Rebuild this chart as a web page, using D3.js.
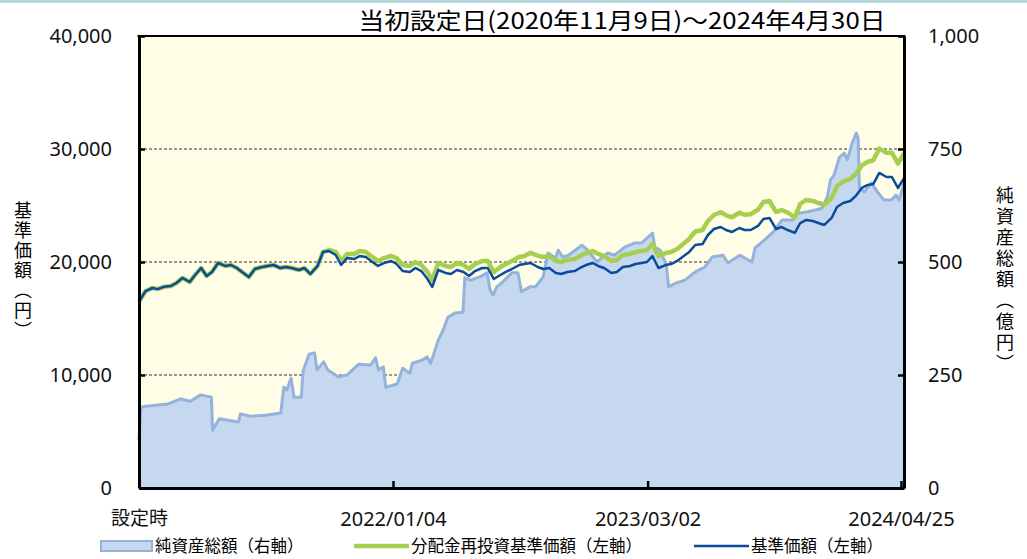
<!DOCTYPE html>
<html lang="ja">
<head>
<meta charset="utf-8">
<title>基準価額・純資産総額の推移</title>
<script src="https://cdn.jsdelivr.net/npm/d3@7"></script>
<style>
  body { margin: 0; background: #fff; }
  svg { display: block; }
</style>
</head>
<body>
<div id="chart"></div>
<script>

/* Data */
/* ==== */

// dates shared by the two price series (1st, 10th, 20th of each month)
var priceDates = [
  '2020-11-09','2020-11-20','2020-12-01','2020-12-10','2020-12-20',
  '2021-01-01','2021-01-10','2021-01-20','2021-02-01','2021-02-10','2021-02-20',
  '2021-03-01','2021-03-10','2021-03-20','2021-04-01','2021-04-10','2021-04-20',
  '2021-05-01','2021-05-10','2021-05-20','2021-06-01','2021-06-10','2021-06-20',
  '2021-07-01','2021-07-10','2021-07-20','2021-08-01','2021-08-10','2021-08-20',
  '2021-09-01','2021-09-10','2021-09-20','2021-10-01','2021-10-10','2021-10-20',
  '2021-11-01','2021-11-10','2021-11-20','2021-12-01','2021-12-10','2021-12-20',
  '2022-01-01','2022-01-10','2022-01-20','2022-02-01','2022-02-10','2022-02-20',
  '2022-03-01','2022-03-10','2022-03-20','2022-04-01','2022-04-10','2022-04-20',
  '2022-05-01','2022-05-10','2022-05-20','2022-06-01','2022-06-10','2022-06-20',
  '2022-07-01','2022-07-10','2022-07-20','2022-08-01','2022-08-10','2022-08-20',
  '2022-09-01','2022-09-10','2022-09-20','2022-10-01','2022-10-10','2022-10-20',
  '2022-11-01','2022-11-10','2022-11-20','2022-12-01','2022-12-10','2022-12-20',
  '2023-01-01','2023-01-10','2023-01-20','2023-02-01','2023-02-10','2023-02-20',
  '2023-03-01','2023-03-10','2023-03-20','2023-04-01','2023-04-10','2023-04-20',
  '2023-05-01','2023-05-10','2023-05-20','2023-06-01','2023-06-10','2023-06-20',
  '2023-07-01','2023-07-10','2023-07-20','2023-08-01','2023-08-10','2023-08-20',
  '2023-09-01','2023-09-10','2023-09-20','2023-10-01','2023-10-10','2023-10-20',
  '2023-11-01','2023-11-10','2023-11-20','2023-12-01','2023-12-10','2023-12-20',
  '2024-01-01','2024-01-10','2024-01-20','2024-02-01','2024-02-10','2024-02-20',
  '2024-03-01','2024-03-10','2024-03-20','2024-04-01','2024-04-10','2024-04-20',
  '2024-04-30'
];

// 基準価額 (円)
var basePrice = [
  16500, 17430, 17700, 17600, 17800,
  17880, 18140, 18590, 18230, 18850, 19470,
  18760, 19120, 19910, 19650, 19735, 19470,
  19030, 18670, 19380, 19560, 19650, 19735,
  19470, 19560, 19470, 19290, 19470, 18940,
  19650, 20890, 20970, 20620, 19735, 20350,
  20270, 20530, 20440, 20000, 19650, 19910,
  20090, 19820, 19200, 19120, 19470, 19200,
  18590, 17790, 19290, 19030, 18940, 19290,
  19120, 18760, 19200, 19470, 19470, 18500,
  18850, 19120, 19380, 19730, 19820, 19910,
  19560, 19380, 19470, 19030, 18940, 19120,
  19200, 19470, 19730, 19910, 19650, 19470,
  19030, 19120, 19560, 19650, 19820, 19910,
  20000, 20530, 19470, 19730, 19820, 20090,
  20530, 20890, 21500, 21590, 22390, 22920,
  23100, 22830, 22660, 23010, 22830, 22830,
  23190, 23810, 23900, 22920, 23100, 22830,
  22570, 23450, 23720, 23630, 23450, 23280,
  23900, 24870, 25220, 25400, 25840, 26550,
  26820, 26900, 27880, 27520, 27520, 26550,
  27430
];

// 分配金再投資基準価額 (円)
var reinvestPrice = [
  16500, 17430, 17700, 17600, 17800,
  17880, 18140, 18590, 18230, 18850, 19470,
  18760, 19120, 19910, 19650, 19735, 19470,
  19030, 18670, 19380, 19560, 19650, 19735,
  19470, 19560, 19470, 19290, 19470, 18940,
  19650, 20890, 21060, 20885, 20090, 20700,
  20710, 20970, 20880, 20440, 20090, 20350,
  20530, 20350, 19730, 19650, 20000, 19730,
  19210, 18410, 19910, 19650, 19560, 19910,
  19740, 19380, 19820, 20090, 20090, 19120,
  19560, 19830, 20090, 20440, 20530, 20810,
  20560, 20440, 20530, 20090, 20000, 20180,
  20260, 20530, 20790, 20970, 20710, 20530,
  20090, 20180, 20620, 20710, 20880, 20970,
  21060, 21590, 20530, 20790, 20880, 21150,
  21630, 22040, 22700, 22830, 23630, 24160,
  24400, 24130, 23960, 24360, 24180, 24230,
  24640, 25310, 25400, 24420, 24600, 24380,
  23950, 25150, 25490, 25400, 25220, 25050,
  25670, 26720, 27120, 27350, 27790, 28550,
  28870, 29000, 30030, 29670, 29670, 28700,
  29630
];

// 純資産総額 (億円)
var assetDates = [
  '2020-11-09','2020-11-12','2020-11-20','2020-12-27','2021-01-17','2021-02-02',
  '2021-02-19','2021-03-09','2021-03-11','2021-03-14','2021-03-22','2021-04-23',
  '2021-04-26','2021-05-13','2021-06-07','2021-07-02','2021-07-07','2021-07-12',
  '2021-07-19','2021-07-24','2021-08-05','2021-08-08','2021-08-18','2021-08-27',
  '2021-08-31','2021-09-11','2021-09-18','2021-10-05','2021-10-20','2021-11-08',
  '2021-11-28','2021-12-06','2021-12-11','2021-12-19','2021-12-23','2022-01-11',
  '2022-01-20','2022-02-01','2022-02-05','2022-02-21','2022-03-02','2022-03-07',
  '2022-03-12','2022-03-20','2022-03-28','2022-04-05','2022-04-17','2022-04-30',
  '2022-05-03','2022-05-12','2022-05-28','2022-06-09','2022-06-14','2022-06-19',
  '2022-06-25','2022-07-05','2022-07-20','2022-07-30','2022-08-05','2022-08-19',
  '2022-08-28','2022-09-10','2022-09-18','2022-09-30','2022-10-05','2022-10-12',
  '2022-10-22','2022-11-13','2022-11-23','2022-12-08','2022-12-26','2023-01-06',
  '2023-01-23','2023-02-08','2023-02-20','2023-03-10','2023-03-14','2023-03-23',
  '2023-04-02','2023-04-06','2023-04-17','2023-05-03','2023-05-20','2023-06-05',
  '2023-06-17','2023-07-05','2023-07-13','2023-08-02','2023-08-22','2023-08-27',
  '2023-09-12','2023-09-26','2023-10-11','2023-10-29','2023-11-07','2023-11-22',
  '2023-12-05','2023-12-16','2023-12-25','2023-12-30','2024-01-05','2024-01-14',
  '2024-01-22','2024-01-27','2024-02-04','2024-02-11','2024-02-14','2024-02-16',
  '2024-02-24','2024-03-07','2024-03-17','2024-03-28','2024-04-09','2024-04-17',
  '2024-04-22','2024-04-30'
];

var assetValues = [
  106, 178, 181, 186, 197, 192,
  206, 201, 128, 135, 153, 146,
  164, 159, 161, 166, 223, 217,
  243, 201, 201, 259, 296, 299,
  261, 279, 261, 246, 250, 274,
  272, 288, 261, 268, 223, 230,
  265, 254, 276, 283, 290, 276,
  294, 327, 349, 378, 387, 389,
  465, 460, 467, 476, 438, 427,
  445, 456, 476, 476, 434, 445,
  445, 467, 520, 509, 526, 511,
  515, 537, 526, 500, 520, 515,
  533, 542, 542, 564, 533, 526,
  493, 445, 453, 460, 478, 489,
  511, 515, 498, 515, 500, 531,
  549, 566, 593, 593, 608, 611,
  615, 619, 644, 681, 692, 732,
  741, 726, 763, 785, 774, 666,
  655, 675, 655, 637, 637, 648,
  637, 675
];

// axes
var leftTicks = [0, 10000, 20000, 30000, 40000];
var rightTicks = [0, 250, 500, 750, 1000];
var gridTicks = [10000, 20000, 30000];
var xTickDates = ['2020-11-09', '2022-01-04', '2023-03-02', '2024-04-25'];
var xTickLabels = ['設定時', '2022/01/04', '2023/03/02', '2024/04/25'];

var titleText = '当初設定日(2020年11月9日)～2024年4月30日';
var legendLabels = ['純資産総額（右軸）', '分配金再投資基準価額（左軸）', '基準価額（左軸）'];


/* Setup */
/* ===== */

var width = 1027,
    height = 559,
    plotLeft = 139,
    plotRight = 904,
    plotTop = 36,
    plotBottom = 488;

var colAreaFill = '#c6d8ef',
    colAreaLine = '#93b3db',
    colGreen = '#a7cf4f',
    colBlue = '#0a4c9c';

var numFont = "'Noto Sans', sans-serif",
    cjkFont = "'Noto Sans CJK JP', sans-serif";

var parse = d3.timeParse('%Y-%m-%d');

var x = d3.scaleTime()
    .domain([parse(priceDates[0]), parse(priceDates[priceDates.length - 1])])
    .range([plotLeft, plotRight]);

var yLeft = d3.scaleLinear().domain([0, 40000]).range([plotBottom, plotTop]);
var yRight = d3.scaleLinear().domain([0, 1000]).range([plotBottom, plotTop]);

var svg = d3.select('#chart').append('svg')
    .attr('width', width)
    .attr('height', height);

// thin band along the top edge
svg.append('rect')
    .attr('x', 0).attr('y', 0)
    .attr('width', width).attr('height', 3)
    .attr('fill', '#b3d5dc');

// plot background
svg.append('rect')
    .attr('x', plotLeft).attr('y', plotTop)
    .attr('width', plotRight - plotLeft).attr('height', plotBottom - plotTop)
    .attr('fill', '#fffde6');

// dashed grid
svg.append('g').selectAll('line')
  .data(gridTicks)
  .join('line')
    .attr('x1', plotLeft).attr('x2', plotRight)
    .attr('y1', function(d) { return yLeft(d); })
    .attr('y2', function(d) { return yLeft(d); })
    .attr('stroke', '#333')
    .attr('stroke-width', 1)
    .attr('stroke-dasharray', '3,2');


/* Series */
/* ====== */

var assets = assetDates.map(function(d, i) { return { date: parse(d), value: assetValues[i] }; });
var base = priceDates.map(function(d, i) { return { date: parse(d), value: basePrice[i] }; });
var reinvest = priceDates.map(function(d, i) { return { date: parse(d), value: reinvestPrice[i] }; });

var assetArea = d3.area()
    .x(function(d) { return x(d.date); })
    .y0(yRight(0))
    .y1(function(d) { return yRight(d.value); });

var assetLine = d3.line()
    .x(function(d) { return x(d.date); })
    .y(function(d) { return yRight(d.value); });

var priceLine = d3.line()
    .x(function(d) { return x(d.date); })
    .y(function(d) { return yLeft(d.value); });

svg.append('path').datum(assets)
    .attr('d', assetArea)
    .attr('fill', colAreaFill);

svg.append('path').datum(assets)
    .attr('d', assetLine)
    .attr('fill', 'none')
    .attr('stroke', colAreaLine)
    .attr('stroke-width', 3)
    .attr('stroke-linejoin', 'round');

svg.append('path').datum(reinvest)
    .attr('d', priceLine)
    .attr('fill', 'none')
    .attr('stroke', colGreen)
    .attr('stroke-width', 4.5)
    .attr('stroke-linejoin', 'round');

svg.append('path').datum(base)
    .attr('d', priceLine)
    .attr('fill', 'none')
    .attr('stroke', colBlue)
    .attr('stroke-width', 2.5)
    .attr('stroke-linejoin', 'round');


/* Axes and frame */
/* ============== */

function styleAxis(g) {
  g.attr('font-family', numFont).attr('font-size', 20);
  g.select('.domain').attr('stroke', '#000').attr('stroke-width', 3);
  g.selectAll('.tick line').attr('stroke', '#000').attr('stroke-width', 2.5);
  g.selectAll('.tick text').attr('fill', '#111');
}

svg.append('g')
    .attr('transform', 'translate(' + plotLeft + ',0)')
    .call(d3.axisLeft(yLeft).tickValues(leftTicks).tickSizeInner(-6).tickSizeOuter(0)
      .tickPadding(27).tickFormat(d3.format(',')))
    .call(styleAxis);

svg.append('g')
    .attr('transform', 'translate(' + plotRight + ',0)')
    .call(d3.axisRight(yRight).tickValues(rightTicks).tickSizeInner(-6).tickSizeOuter(0)
      .tickPadding(24).tickFormat(d3.format(',')))
    .call(styleAxis);

svg.append('g')
    .attr('transform', 'translate(0,' + plotBottom + ')')
    .call(d3.axisBottom(x).tickValues(xTickDates.map(parse)).tickSizeInner(-7).tickSizeOuter(0)
      .tickPadding(24).tickFormat(function(d, i) { return xTickLabels[i]; }))
    .call(styleAxis)
    .call(function(g) {
      g.selectAll('.tick text').filter(function(d, i) { return i === 0; })
        .attr('font-family', cjkFont).attr('font-size', 19);
    });

// top edge of the frame
svg.append('line')
    .attr('x1', plotLeft - 1.5).attr('x2', plotRight + 1.5)
    .attr('y1', plotTop).attr('y2', plotTop)
    .attr('stroke', '#000').attr('stroke-width', 2);


/* Titles */
/* ====== */

svg.append('text')
    .attr('x', 622).attr('y', 29)
    .attr('text-anchor', 'middle')
    .attr('font-family', cjkFont)
    .attr('font-size', 23)
    .attr('font-weight', 400)
    .attr('textLength', 527)
    .attr('lengthAdjust', 'spacingAndGlyphs')
    .text(titleText);

svg.append('text')
    .attr('x', 23).attr('y', 201)
    .style('writing-mode', 'vertical-rl')
    .style('letter-spacing', '2px')
    .attr('font-family', cjkFont)
    .attr('font-size', 18)
    .text('基準価額（円）');

svg.append('text')
    .attr('x', 1005).attr('y', 186)
    .style('writing-mode', 'vertical-rl')
    .style('letter-spacing', '3px')
    .attr('font-family', cjkFont)
    .attr('font-size', 18)
    .text('純資産総額（億円）');


/* Legend */
/* ====== */

var legend = svg.append('g').attr('font-family', cjkFont).attr('font-size', 16.5);

legend.append('rect')
    .attr('x', 101).attr('y', 541).attr('width', 51).attr('height', 10)
    .attr('fill', colAreaFill).attr('stroke', colAreaLine).attr('stroke-width', 2);
legend.append('text').attr('x', 155).attr('y', 552).text(legendLabels[0]);

legend.append('line')
    .attr('x1', 354).attr('x2', 409).attr('y1', 546).attr('y2', 546)
    .attr('stroke', colGreen).attr('stroke-width', 4.5);
legend.append('text').attr('x', 411).attr('y', 552).text(legendLabels[1]);

legend.append('line')
    .attr('x1', 694).attr('x2', 749).attr('y1', 546).attr('y2', 546)
    .attr('stroke', colBlue).attr('stroke-width', 2.5);
legend.append('text').attr('x', 751).attr('y', 552).text(legendLabels[2]);

</script>
</body>
</html>
